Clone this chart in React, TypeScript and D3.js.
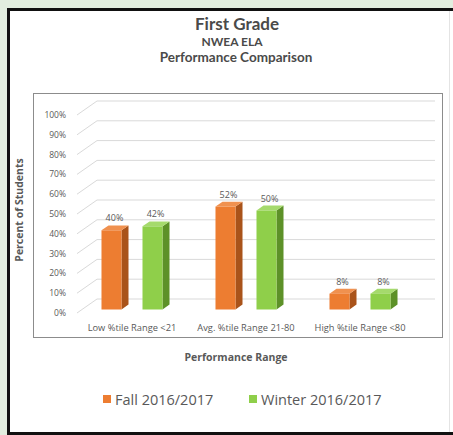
import * as d3 from "d3"

const categories = ["Low %tile Range <21", "Avg. %tile Range 21-80", "High %tile Range <80"]
const seriesNames = ["Fall 2016/2017", "Winter 2016/2017"]
const fallValues = [40, 52, 8]
const winterValues = [42, 50, 8]
const yTicks = [0, 10, 20, 30, 40, 50, 60, 70, 80, 90, 100]

const colors = {
  front: ["#ed7d31", "#8fcf4a"],
  side: ["#a9531a", "#5d9128"],
  top: ["#f0914f", "#a5da6c"],
}

const W = 453
const H = 435
const DX = 20
const DY = -14
const textGrey = "#595959"

export default function App() {
  const values = [fallValues, winterValues]

  const y = d3.scaleLinear().domain([0, 100]).range([313, 115])
  const x0 = d3.scaleBand<string>().domain(categories).range([70, 412])
  const x1 = d3
    .scaleBand<string>()
    .domain(seriesNames)
    .range([0, x0.bandwidth()])
    .paddingInner(0.512)
    .paddingOuter(0.646)

  // bars sit a quarter of the way into the depth
  const offX = DX * 0.25
  const offY = DY * 0.25
  const dX = DX * 0.35
  const dY = DY * 0.35
  const bw = x1.bandwidth()

  return (
    <svg width={W} height={H} style={{ position: "absolute", left: 0, top: 0 }} fontFamily="'Open Sans', sans-serif">
      <rect x={0} y={0} width={W} height={H} fill="#e2eedf" />
      <rect x={8} y={8} width={W} height={H} fill="#fff" />
      <path d={`M${W},9.5 H8.5 V433.5 H${W}`} fill="none" stroke="#111" strokeWidth={3} />
      <line x1={449.5} x2={449.5} y1={11} y2={432} stroke="#e4e4e4" />

      {/* titles */}
      <g textAnchor="middle" fill="#4a4a4a" fontWeight="bold" fontFamily="Lato, sans-serif">
        <text x={237} y={30} fontSize={17}>First Grade</text>
        <text x={232} y={46} fontSize={12}>NWEA ELA</text>
        <text x={236} y={62} fontSize={13.5}>Performance Comparison</text>
      </g>

      <rect x={33.5} y={93.5} width={409} height={244} fill="none" stroke="#8c8c8c" />

      {/* gridlines with side wall */}
      <g stroke="#d9d9d9" fill="none">
        {yTicks.map((t) => (
          <path key={t} d={`M77,${y(t)} L${77 + DX},${y(t) + DY} H435`} />
        ))}
      </g>
      <g textAnchor="end" fontSize={8.5} fill={textGrey}>
        {yTicks.map((t) => (
          <text key={t} x={66} y={y(t) + 3}>
            {t}%
          </text>
        ))}
      </g>

      {/* bars */}
      {categories.map((c, ci) =>
        seriesNames.map((s, si) => {
          const v = values[si][ci]
          const x = (x0(c) ?? 0) + (x1(s) ?? 0) + offX
          const yt = y(v) + offY
          const yb = y(0) + offY
          return (
            <g key={c + s}>
              <path
                d={`M${x + bw},${yt} L${x + bw + dX},${yt + dY} V${yb + dY} L${x + bw},${yb} Z`}
                fill={colors.side[si]}
              />
              <path
                d={`M${x},${yt} L${x + dX},${yt + dY} H${x + bw + dX} L${x + bw},${yt} Z`}
                fill={colors.top[si]}
              />
              <rect x={x} y={yt} width={bw} height={yb - yt} fill={colors.front[si]} />
              <text x={x + bw / 2 + 3} y={yt + dY - 4} textAnchor="middle" fontSize={9} fill={textGrey}>
                {v}%
              </text>
            </g>
          )
        }),
      )}

      {/* category labels */}
      <g textAnchor="middle" fontSize={9.3} fill={textGrey}>
        {categories.map((c) => (
          <text key={c} x={(x0(c) ?? 0) + x0.bandwidth() / 2 + 5} y={331}>
            {c}
          </text>
        ))}
      </g>

      <text
        transform="translate(23,210) rotate(-90)"
        textAnchor="middle"
        fontSize={10.5}
        fontWeight="bold"
        fill={textGrey}
      >
        Percent of Students
      </text>
      <text x={236} y={361} textAnchor="middle" fontSize={10.5} fontWeight="bold" fill={textGrey}>
        Performance Range
      </text>

      {/* legend */}
      <g fontSize={14.5} fill={textGrey}>
        <rect x={103} y={395} width={8} height={8} fill={colors.front[0]} />
        <text x={115} y={405}>{seriesNames[0]}</text>
        <rect x={249} y={395} width={8} height={8} fill={colors.front[1]} />
        <text x={261} y={405}>{seriesNames[1]}</text>
      </g>
    </svg>
  )
}
